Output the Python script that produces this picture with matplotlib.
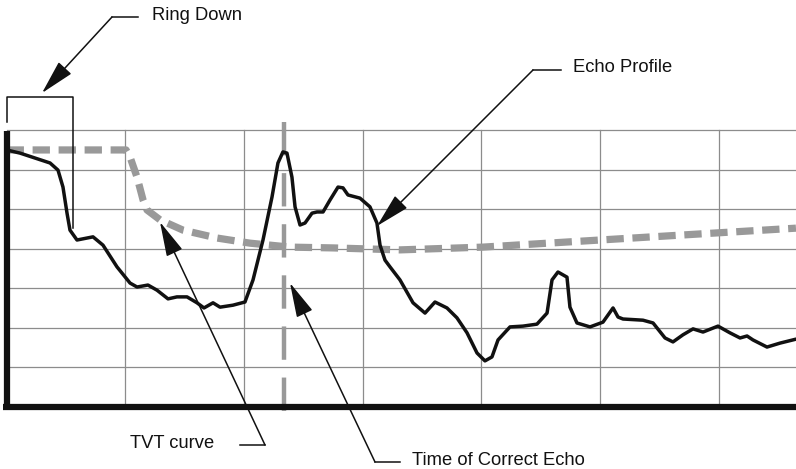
import matplotlib
matplotlib.use('Agg')
import matplotlib.pyplot as plt

# echo profile (x in grid columns, y in grid rows)
echo_x = [0.0, 0.113, 0.366, 0.433, 0.475, 0.509, 0.534, 0.593, 0.728, 0.812, 0.930, 1.040,
          1.099, 1.191, 1.267, 1.360, 1.435, 1.520, 1.604, 1.663, 1.739, 1.798, 1.907, 2.008,
          2.076, 2.160, 2.236, 2.286, 2.328, 2.362, 2.404, 2.430, 2.472, 2.514, 2.573, 2.615,
          2.666, 2.724, 2.792, 2.834, 2.876, 2.977, 3.061, 3.120, 3.146, 3.188, 3.230, 3.314,
          3.424, 3.525, 3.609, 3.710, 3.794, 3.879, 3.963, 4.030, 4.089, 4.140, 4.241, 4.350,
          4.468, 4.553, 4.595, 4.645, 4.721, 4.746, 4.805, 4.915, 5.024, 5.109, 5.151, 5.193,
          5.361, 5.446, 5.547, 5.614, 5.698, 5.783, 5.867, 5.993, 6.094, 6.179, 6.238, 6.288,
          6.406, 6.516, 6.650]
echo_y = [6.50, 6.42, 6.17, 5.99, 5.56, 4.90, 4.47, 4.22, 4.30, 4.09, 3.54, 3.13,
          3.03, 3.08, 2.95, 2.73, 2.78, 2.78, 2.63, 2.50, 2.63, 2.52, 2.57, 2.65,
          3.21, 4.22, 5.31, 6.17, 6.45, 6.42, 5.81, 5.06, 4.60, 4.65, 4.90, 4.93,
          4.93, 5.23, 5.56, 5.54, 5.36, 5.28, 5.06, 4.65, 4.09, 3.71, 3.54, 3.21,
          2.63, 2.37, 2.65, 2.50, 2.25, 1.87, 1.36, 1.16, 1.26, 1.69, 2.02, 2.04,
          2.09, 2.37, 3.21, 3.41, 3.28, 2.52, 2.12, 2.02, 2.14, 2.50, 2.27, 2.22,
          2.19, 2.12, 1.74, 1.64, 1.82, 1.97, 1.89, 2.04, 1.87, 1.74, 1.79, 1.69,
          1.51, 1.61, 1.71]

# TVT curve
tvt_x = [0.0, 1.006, 1.040, 1.099, 1.150, 1.183, 1.293, 1.486, 1.773, 2.051, 2.388,
         2.750, 3.314, 4.013, 4.999, 5.985, 6.650]
tvt_y = [6.50, 6.50, 6.32, 5.81, 5.23, 4.98, 4.73, 4.47, 4.27, 4.14, 4.04,
         4.02, 3.97, 4.04, 4.22, 4.40, 4.52]

echo_time = 2.337
ring_down_end = 0.556
n_cols = 7
n_rows = 7

W, H = 796, 469
X0, DX = 6.6, 118.7
Y0, DY = 406.7, 39.5


def px(x, y):
    # pixel position -> grid units
    return (x - X0) / DX, (Y0 - y) / DY


fig = plt.figure(figsize=(W / 100, H / 100), dpi=100)
ax = fig.add_axes([0, 0, 1, 1])
ax.set_xlim(px(0, 0)[0], px(W, 0)[0])
ax.set_ylim(px(0, H)[1], px(0, 0)[1])
ax.axis('off')

plt.rcParams['font.family'] = ['Liberation Sans Narrow', 'Liberation Sans', 'DejaVu Sans']

grid_c = '#8c8c8c'
for i in range(1, n_cols):
    ax.plot([i, i], [0, n_rows], color=grid_c, lw=0.9, zorder=1)
for j in range(1, n_rows + 1):
    ax.plot([0, px(W, 0)[0]], [j, j], color=grid_c, lw=0.9, zorder=1)

# axes
ax.plot([0, 0], [0, px(0, 131)[1]], color='#111111', lw=4.5, solid_capstyle='butt', zorder=5)
ax.plot([px(3, 0)[0], px(W, 0)[0]], [0, 0], color='#111111', lw=4.5, solid_capstyle='butt', zorder=5)

# time of correct echo
ax.plot([echo_time, echo_time], [px(0, 122)[1], px(0, 413)[1]], color='#999999', lw=3.2,
        linestyle=(0, (7.5, 4.0)), zorder=2)

# TVT curve
ax.plot(tvt_x, tvt_y, color='#999999', lw=5.2, linestyle=(0, (2.4, 1.2)),
        solid_joinstyle='round', zorder=3)

# echo profile
ax.plot(echo_x, echo_y, color='#111111', lw=2.5, solid_joinstyle='round',
        solid_capstyle='round', zorder=4)

# ring down bracket
ax.plot([0, 0, ring_down_end, ring_down_end],
        [px(0, 122)[1], px(0, 97)[1], px(0, 97)[1], px(0, 228)[1]],
        color='#111111', lw=1.1, zorder=4)

arrow = dict(arrowstyle='-|>,head_length=1.2,head_width=0.3', color='#111111', lw=1.1,
             mutation_scale=18, shrinkA=0, shrinkB=0)


def callout(label, text_xy, elbow, tip, seg_end):
    ax.plot(*zip(px(*elbow), px(*seg_end)), color='#111111', lw=1.1, zorder=6)
    ax.annotate('', xy=px(*tip), xytext=px(*elbow), arrowprops=arrow, zorder=6)
    ax.text(*px(*text_xy), label, fontsize=13.2, ha='left', va='center', color='#111111')


callout('Ring Down', (152, 16), (112, 17), (42, 93), (138, 17))
callout('Echo Profile', (573, 67), (533, 70), (377, 226), (561, 70))
callout('TVT curve', (130, 443), (265, 445), (160, 222), (240, 445))
callout('Time of Correct Echo', (412, 460), (375, 462), (290, 283), (400, 462))

plt.savefig('out.png', dpi=100)
